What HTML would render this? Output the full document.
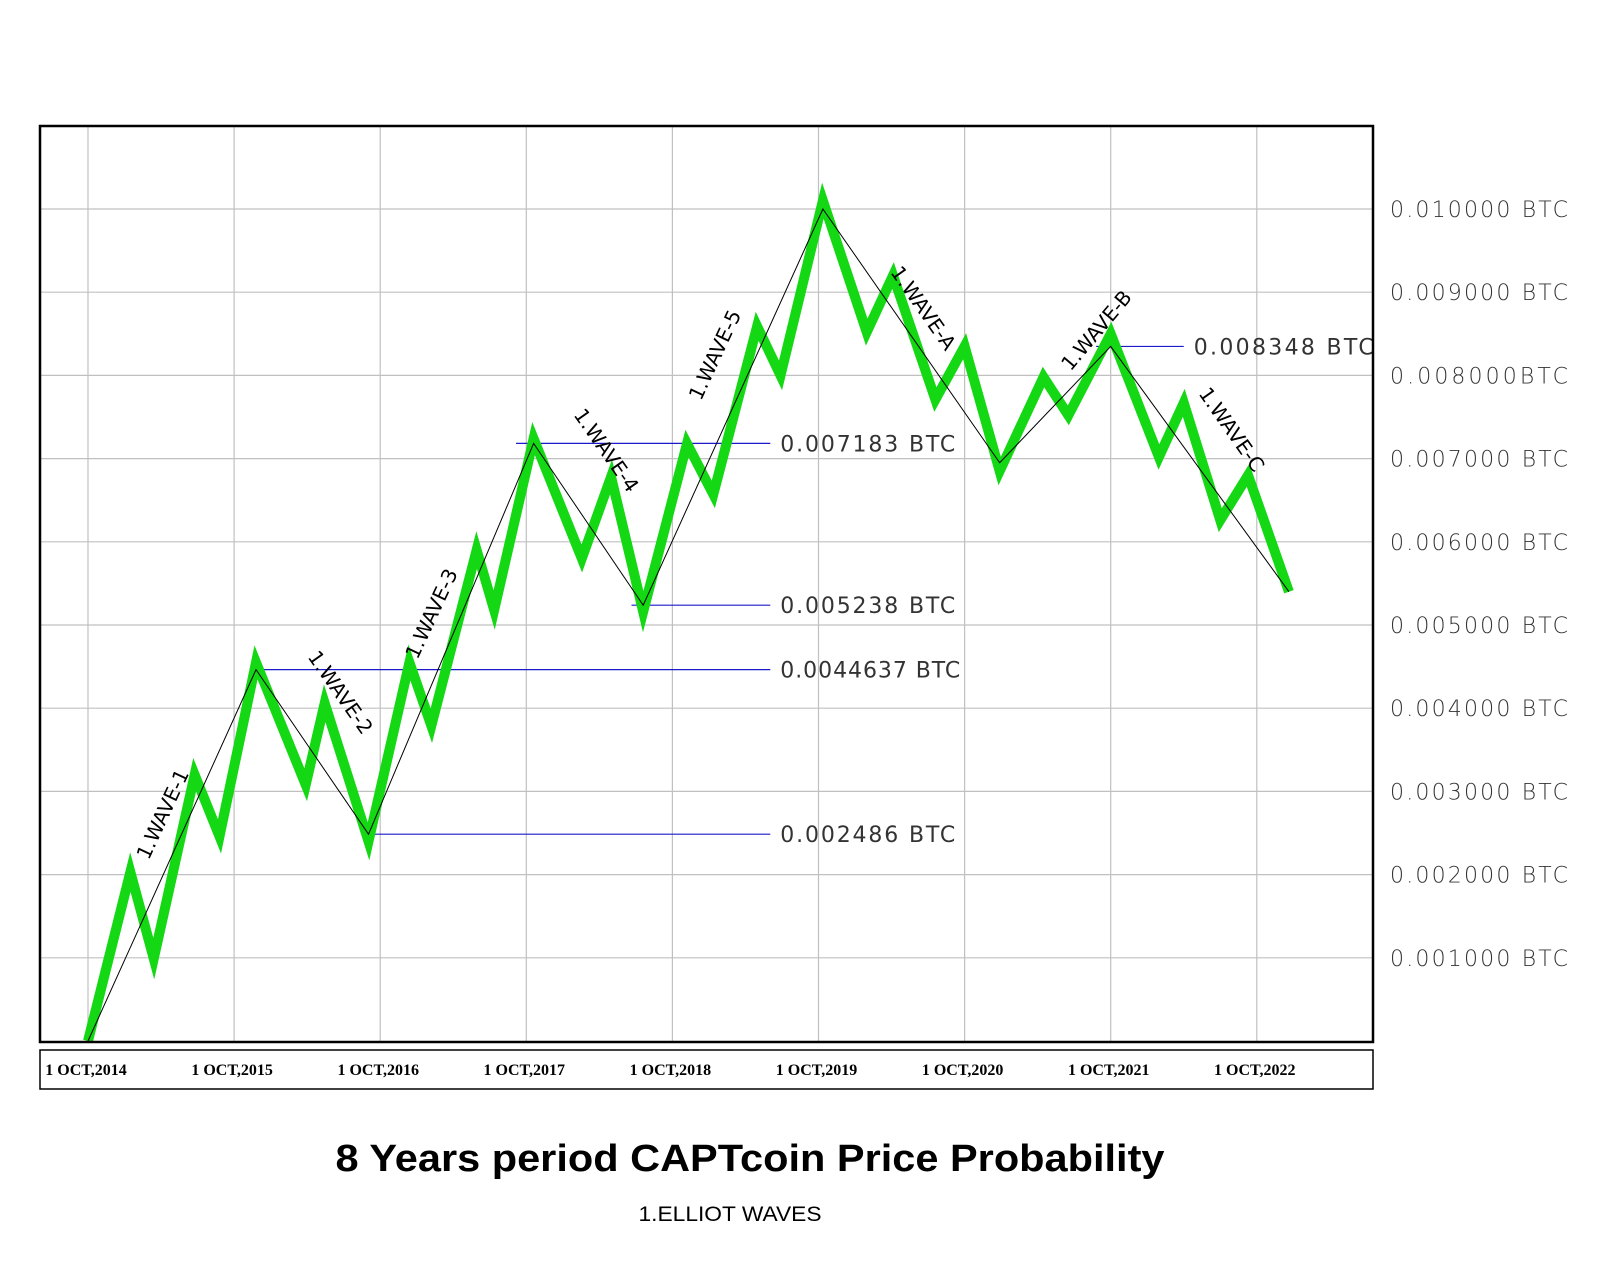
<!DOCTYPE html>
<html><head><meta charset="utf-8"><style>
html,body{margin:0;padding:0;background:#fff;width:1600px;height:1280px;overflow:hidden}
svg text{font-family:"DejaVu Sans","Liberation Sans",sans-serif}
</style></head><body>
<svg id="chart" width="1600" height="1280" viewBox="0 0 1600 1280" xmlns="http://www.w3.org/2000/svg">
<g id="grid"></g>
<g id="marks"></g>
<g id="labels"></g>
<rect x="40" y="126" width="1333" height="916" fill="none" stroke="#000" stroke-width="2.5"/>
<rect x="40" y="1050" width="1333" height="39" fill="none" stroke="#000" stroke-width="1.5"/>
<g id="xaxis"></g>
<g id="yaxis"></g>
<text x="750" y="1171" text-anchor="middle" font-size="38" font-weight="bold" textLength="829" lengthAdjust="spacingAndGlyphs" style="font-family:'Liberation Sans',sans-serif">8 Years period CAPTcoin Price Probability</text>
<text x="730" y="1221" text-anchor="middle" font-size="21" textLength="183" lengthAdjust="spacingAndGlyphs" style="font-family:'Liberation Sans',sans-serif">1.ELLIOT WAVES</text>
</svg>
<script>
const years = [2014,2015,2016,2017,2018,2019,2020,2021,2022];
const yTicks = [0.001,0.002,0.003,0.004,0.005,0.006,0.007,0.008,0.009,0.010];
const yTickLabels = ["0.001000  BTC","0.002000  BTC","0.003000  BTC","0.004000  BTC","0.005000  BTC","0.006000  BTC","0.007000  BTC","0.008000BTC","0.009000  BTC","0.010000  BTC"];
const priceT = [2014.0,2014.29,2014.45,2014.73,2014.9,2015.15,2015.49,2015.62,2015.92,2016.2,2016.35,2016.66,2016.78,2017.05,2017.38,2017.58,2017.8,2018.1,2018.28,2018.58,2018.74,2019.03,2019.33,2019.51,2019.8,2020.0,2020.24,2020.54,2020.71,2021.0,2021.33,2021.5,2021.75,2021.94,2022.22];
const priceV = [0,0.00203,0.00099,0.0032,0.00246,0.00455,0.00308,0.00406,0.0024,0.00455,0.00379,0.0059,0.00518,0.00724,0.0058,0.00678,0.00516,0.00718,0.00657,0.00859,0.008,0.0101,0.00852,0.0092,0.00771,0.00835,0.00685,0.00798,0.00752,0.0085,0.00702,0.00767,0.00626,0.0068,0.0054];
const waveT = [2014.0,2015.15,2015.92,2017.05,2017.8,2019.03,2020.24,2021.0,2022.22];
const waveV = [0,0.0044637,0.002486,0.007183,0.005238,0.01,0.00695,0.008348,0.0054];
const levelV = [0.0044637,0.002486,0.007183,0.005238,0.008348];
const levelT0 = [2015.15,2015.92,2016.93,2017.72,2020.9];
const levelT1 = [2018.67,2018.67,2018.67,2018.67,2021.5];
const levelLabels = ["0.0044637  BTC","0.002486  BTC","0.007183  BTC","0.005238  BTC","0.008348  BTC"];
const waveNames = ["1.WAVE-1","1.WAVE-2","1.WAVE-3","1.WAVE-4","1.WAVE-5","1.WAVE-A","1.WAVE-B","1.WAVE-C"];
const waveNameT = [2014.52,2015.72,2016.36,2017.54,2018.3,2019.71,2020.91,2021.82];
const waveNameV = [0.00272,0.00418,0.00513,0.00709,0.00824,0.00880,0.00853,0.00734];
const waveNameRot = [-65,55,-65,55,-65,55,-50,55];

const NS="http://www.w3.org/2000/svg";
const X0=88, XS=146.1, YB=1041, YS=83200;
const xs=t=>X0+(t-2014)*XS;
const ys=v=>YB-v*YS;
function mk(tag,attrs,parent,txt){const e=document.createElementNS(NS,tag);for(const k in attrs)e.setAttribute(k,attrs[k]);if(txt!==undefined)e.textContent=txt;parent.appendChild(e);return e;}
const grid=document.getElementById('grid'),marks=document.getElementById('marks'),labels=document.getElementById('labels'),xaxis=document.getElementById('xaxis'),yaxis=document.getElementById('yaxis');
years.forEach(y=>{const l=mk('line',{x1:xs(y),x2:xs(y),y1:126,y2:1042,stroke:'#c0c0c0','stroke-width':1.2},grid);


const t=mk('text',{x:xs(y)-2,y:1075,'text-anchor':'middle','font-size':16,'font-weight':'bold',style:"font-family:'Liberation Serif',serif"},xaxis,'1 OCT,'+y);

});
yTicks.forEach((v,i)=>{const l=mk('line',{x1:40,x2:1373,y1:ys(v),y2:ys(v),stroke:'#c0c0c0','stroke-width':1.2},grid);


const t=mk('text',{x:1390,y:ys(v)+8,'font-size':22,fill:'#333','font-weight':'300','textLength':178,'lengthAdjust':'spacing'},yaxis,yTickLabels[i]);

});
levelV.forEach((v,i)=>{const l=mk('line',{x1:xs(levelT0[i]),x2:xs(levelT1[i]),y1:ys(v),y2:ys(v),stroke:'#1a1acc','stroke-width':1.2},marks);


const t=mk('text',{x:xs(levelT1[i])+10,y:ys(v)+8,'font-size':22,fill:'#333','textLength':i==0?180:(i==4?180:175),'lengthAdjust':'spacing'},labels,levelLabels[i]);

});
const gp=mk('polyline',{points:priceT.map((t,i)=>xs(t)+','+ys(priceV[i])).join(' '),fill:'none',stroke:'#14d814','stroke-width':10,'stroke-linejoin':'miter','stroke-miterlimit':10},marks);


const wp=mk('polyline',{points:waveT.map((t,i)=>xs(t)+','+ys(waveV[i])).join(' '),fill:'none',stroke:'#000','stroke-width':1},marks);


waveNames.forEach((n,i)=>{const x=xs(waveNameT[i]),y=ys(waveNameV[i]);
const t=mk('text',{x:x,y:y,'text-anchor':'middle','dominant-baseline':'middle','font-size':20,transform:`rotate(${waveNameRot[i]} ${x} ${y})`},labels,n);

});
</script>
</body></html>
